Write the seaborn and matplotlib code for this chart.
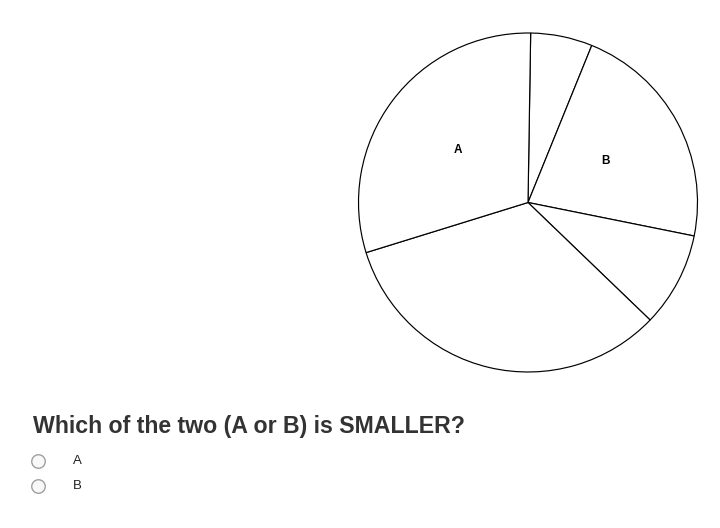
import seaborn as sns
import matplotlib.pyplot as plt

# slice sizes in degrees, clockwise from the top
slice_sizes = [21.2, 79.3, 32.5, 118.9, 108.1]
slice_labels = ['', 'B', '', '', 'A']
question = 'Which of the two (A or B) is SMALLER?'
choices = ['A', 'B']

sns.set_theme(style='white')
plt.rcParams['font.family'] = ['Liberation Sans', 'DejaVu Sans']

fig = plt.figure(figsize=(7.2, 5.28), dpi=100)

# pie axes: centre (528, 202.5) px, radius 170 px
ax = fig.add_axes([358 / 720, 155.5 / 528, 340 / 720, 340 / 528])
wedges, texts = ax.pie(slice_sizes, labels=slice_labels, startangle=89.1,
                       counterclock=False, labeldistance=0.52,
                       colors=['white'] * len(slice_sizes),
                       wedgeprops=dict(edgecolor='black', linewidth=0.85),
                       textprops=dict(fontsize=8.5, fontweight='bold', color='black'))
for t in texts:
    t.set_horizontalalignment('center')
    t.set_verticalalignment('center')
ax.set_xlim(-1.003, 1.003)
ax.set_ylim(-1.003, 1.003)
ax.set_aspect('equal')
ax.axis('off')

# question and radio buttons in figure pixel space
ov = fig.add_axes([0, 0, 1, 1])
ov.set_xlim(0, 720)
ov.set_ylim(528, 0)
ov.axis('off')
ov.text(33, 427, question, fontsize=16.7, fontweight='bold', color='#333333',
        ha='left', va='center')
ys = [461, 486]
sns.scatterplot(x=[38] * len(choices), y=ys, ax=ov, s=95, color='#f8f8f8',
                edgecolor='#a0a0a0', linewidth=1.0, legend=False)
for c, y in zip(choices, ys):
    ov.text(77, y, c, fontsize=9.5, color='#222222', ha='center', va='center')
ov.set_xlim(0, 720)
ov.set_ylim(528, 0)

fig.savefig('out.png', dpi=100)
